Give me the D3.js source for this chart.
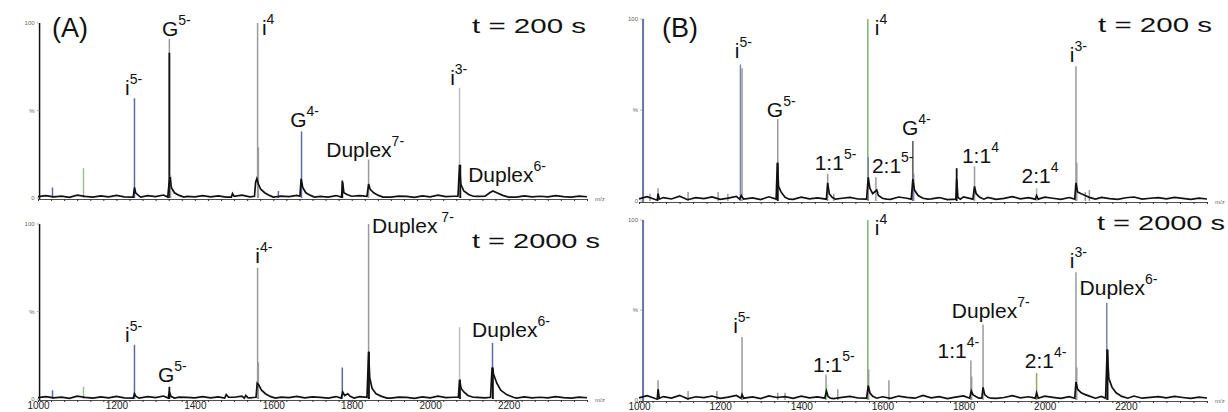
<!DOCTYPE html>
<html lang="en">
<head>
<meta charset="utf-8">
<title>ESI-MS spectra</title>
<script src="https://d3js.org/d3.v7.min.js"></script>
<style>
  body { margin: 0; background: #fff; }
  text { font-family: "Liberation Sans", Arial, sans-serif; }
</style>
</head>
<body>
<script>
// m/z range and tick labels
const mzDomain = [1000, 2400];
const majorTicks = [1000, 1200, 1400, 1600, 1800, 2000, 2200];

// baseline noise (% intensity), one value every 20 m/z from 1000
const noiseA = [0.8,1.4,0.6,1.1,0.4,1.6,0.9,0.5,1.2,0.7,1.5,0.6,1.0,0.4,1.3,0.8,1.7,0.5,1.1,0.9,
  0.6,1.4,0.7,1.2,0.5,1.0,1.6,0.6,0.9,1.3,0.4,1.1,0.8,1.5,0.6,1.2,0.9,0.5,1.4,0.7,
  1.0,1.3,0.6,0.8,1.5,0.5,1.1,0.9,0.4,1.2,0.7,1.6,0.8,1.0,0.5,1.3,0.9,0.6,1.4,0.8,
  1.1,0.5,1.2,0.7,1.0,0.6,1.3,0.8,0.5,1.1,0.7];
const noiseB = [1.2,2.4,0.8,1.9,1.1,2.6,0.7,1.8,1.3,2.2,0.9,1.6,2.5,1.0,1.7,0.8,2.3,1.4,1.9,0.9,
  2.1,1.2,1.7,2.6,0.8,1.5,2.0,1.1,2.4,1.3,1.8,0.9,2.2,1.5,1.0,2.5,1.2,1.9,0.8,1.6,
  2.3,1.1,1.7,2.0,0.9,1.4,2.4,1.2,1.8,1.0,2.1,1.5,0.9,1.9,2.3,1.1,1.6,2.0,1.3,0.9,
  1.8,2.2,1.0,1.5,1.9,1.2,2.0,1.4,0.9,1.6,1.1];

// centroid sticks: [m/z, %, colour key]
const sticksA1 = [[1037,6,'blue'],[1116,17,'green'],[1246,57,'blue'],[1335,91,'grey'],[1335,83,'black'],
  [1338,13,'grey'],[1560,100,'grey'],[1562,29,'grey'],[1613,4,'blue'],[1672,38,'blue'],
  [1776,10,'black'],[1843,22,'grey'],[2075,63,'light'],[2077,19,'black']];
const sticksA2 = [[1037,5,'blue'],[1116,7,'green'],[1246,31,'blue'],[1335,7,'black'],[1560,75,'grey'],
  [1562,21,'grey'],[1776,18,'blue'],[1843,100,'grey'],[1844,27,'black'],[2075,41,'light'],
  [2076,11,'black'],[2159,32,'blue'],[2160,18,'black']];
const sticksB1 = [[1027,4,'grey'],[1047,7,'grey'],[1121,5,'grey'],[1195,5,'grey'],[1219,4,'grey'],
  [1250,75,'slate'],[1254,73,'grey'],[1342,45,'grey'],[1342,21,'black'],[1465,15,'grey'],
  [1480,4,'grey'],[1564,100,'green2'],[1565,24,'slate'],[1584,13,'grey'],[1675,33,'dgrey'],
  [1677,15,'slate'],[1783,18,'black'],[1827,19,'grey'],[1980,7,'green'],[2077,74,'grey'],
  [2079,21,'grey'],[2100,5,'grey'],[2110,6,'grey']];
const sticksB2 = [[1047,11,'grey'],[1121,5,'grey'],[1192,5,'grey'],[1254,35,'grey'],[1342,4,'grey'],
  [1360,4,'grey'],[1461,14,'grey'],[1462,9,'green'],[1490,6,'grey'],[1564,100,'green2'],
  [1566,17,'grey'],[1616,11,'grey'],[1818,22,'grey'],[1820,13,'grey'],[1848,42,'grey'],
  [1980,15,'olive'],[2077,71,'grey'],[2079,18,'grey'],[2153,54,'slate'],[2155,28,'black']];

// profile peaks (black trace): lists of [m/z, %]
const peaksA1 = [
  [[1243,0.5],[1246,6],[1249,3],[1256,1.5],[1262,0.5]],
  [[1331,0.5],[1334,8],[1337,12],[1340,6],[1348,3],[1360,1.5],[1372,0.5]],
  [[1493,0.5],[1496,2.5],[1500,1]],
  [[1552,1],[1555,9],[1558,11],[1562,8],[1568,5],[1578,3],[1590,1.5],[1600,0.5]],
  [[1668,1],[1671,11],[1675,6],[1683,3],[1695,1.5],[1705,0.5]],
  [[1774,0.5],[1777,9],[1780,3],[1788,2],[1800,1]],
  [[1839,1],[1843,8],[1847,5],[1856,3],[1868,1.5],[1880,0.5]],
  [[2071,1],[2075,19],[2078,8],[2086,4],[2098,2],[2110,1]],
  [[2140,1],[2152,3],[2160,4],[2170,3],[2185,1.5],[2200,0.5]]];
const peaksA2 = [
  [[1243,0.5],[1246,3],[1250,1.5],[1258,0.5]],
  [[1332,0.5],[1335,4],[1339,1.5],[1348,0.5]],
  [[1476,0.5],[1480,2.5],[1486,1]],
  [[1526,0.5],[1530,2],[1535,0.8]],
  [[1556,1],[1559,9],[1563,8],[1570,5],[1580,3],[1592,1.5],[1605,0.5]],
  [[1773,0.5],[1777,4],[1782,2],[1790,3],[1796,1.5],[1806,0.5]],
  [[1839,1],[1843,27],[1846,12],[1852,6],[1862,3],[1876,1.5],[1890,0.5]],
  [[2072,1],[2075,11],[2079,6],[2086,4],[2096,2],[2110,1]],
  [[2154,1],[2158,18],[2162,14],[2170,9],[2180,5],[2195,2.5],[2212,1]]];
const peaksB1 = [
  [[1045,0.5],[1047,4],[1050,1]],
  [[1248,1],[1252,3],[1258,1]],
  [[1338,1],[1341,21],[1344,8],[1350,5],[1360,2],[1370,1]],
  [[1462,1],[1465,10],[1469,4],[1476,2],[1484,1]],
  [[1561,1],[1565,13],[1569,7],[1576,4],[1586,6],[1590,3],[1600,1.5],[1610,1]],
  [[1671,1],[1675,12],[1679,6],[1688,3],[1700,1.5],[1712,1]],
  [[1781,1],[1783,12],[1786,2],[1792,1]],
  [[1823,1],[1827,8],[1831,4],[1840,2],[1850,1]],
  [[1977,1],[1980,3],[1984,1]],
  [[2074,1],[2077,10],[2081,5],[2090,4],[2100,3],[2110,2],[2125,1]]];
const peaksB2 = [
  [[1045,0.5],[1047,6],[1050,1]],
  [[1251,1],[1254,3],[1258,1]],
  [[1458,1],[1462,5],[1466,2],[1472,1]],
  [[1561,1],[1565,8],[1569,4],[1576,2],[1586,1]],
  [[1815,1],[1819,5],[1823,3],[1830,2],[1838,1]],
  [[1845,1],[1848,7],[1852,3],[1860,1.5],[1868,1]],
  [[1977,1],[1980,4],[1984,1]],
  [[2074,1],[2077,10],[2081,6],[2090,4],[2100,3],[2112,2],[2125,1]],
  [[2150,1],[2154,28],[2158,12],[2166,7],[2176,4],[2190,2],[2205,1]]];

// peak labels: [main, superscript, m/z, %] (anchor = left end of text baseline)
const labelsA1 = [['i','5-',1222,58.9],['G','5-',1316,92.6],['i','4',1571,93.1],['G','4-',1643,40.6],
  ['Duplex','7-',1735,23.4],['i','3-',2051,64.6],['Duplex','6-',2097,9.1]];
const labelsA2 = [['i','4-',1554,77.7],['i','5-',1222,32.6],['G','5-',1306,9.7],
  ['Duplex',' 7-',1852,94.9],['Duplex','6-',2107,35.4]];
const labelsB1 = [['i','5-',1236,78.6],['G','5-',1315,46.2],['i','4',1581,91.2],['1:1','5-',1433,17.0],
  ['2:1','5-',1574,15.4],['G','4-',1648,36.3],['1:1','4',1796,20.9],['2:1','4',1943,9.9],['i','3-',2062,76.4]];
const labelsB2 = [['i','4',1581,91.7],['i','5-',1232,37.2],['1:1','5-',1429,15.6],['1:1','4-',1736,23.3],
  ['Duplex','7-',1771,45.6],['2:1','4-',1951,17.8],['i','3-',2062,73.3],['Duplex','6-',2086,58.3]];

const colors = {black:'#111', grey:'#9a9a9a', light:'#bdbdbd', blue:'#5d6aa2', green:'#9cc096',
  green2:'#7fb46c', slate:'#7c84ab', dgrey:'#555', olive:'#a3a35e'};

const W = 1228, H = 412;
const svg = d3.select(document.body).append('svg').attr('width', W).attr('height', H);

const panels = [
  {noise: noiseA, sticks: sticksA1, peaks: peaksA1, labels: labelsA1, xr: [38, 587], yr: [198, 23],
   axisMz: 1004, axisColor: '#111', axisW: 1.5, tag: '(A)', tagX: 52, time: 't = 200 s', tX: 472, tY: 33, tW: 114, xLabels: false},
  {noise: noiseA, sticks: sticksA2, peaks: peaksA2, labels: labelsA2, xr: [38, 587], yr: [399, 224],
   axisMz: 1004, axisColor: '#111', axisW: 1.5, time: 't = 2000 s', tX: 472, tY: 248, tW: 128, xLabels: true},
  {noise: noiseB, sticks: sticksB1, peaks: peaksB1, labels: labelsB1, xr: [639, 1207], yr: [201, 19],
   axisMz: 1010, axisColor: '#6a72a6', axisW: 2, tag: '(B)', tagX: 662, time: 't = 200 s', tX: 1098, tY: 32, tW: 114, xLabels: false},
  {noise: noiseB, sticks: sticksB2, peaks: peaksB2, labels: labelsB2, xr: [639, 1207], yr: [400, 220],
   axisMz: 1010, axisColor: '#6a72a6', axisW: 2, time: 't = 2000 s', tX: 1097, tY: 230, tW: 128, xLabels: true}
];

panels.forEach(p => {
  const x = d3.scaleLinear().domain(mzDomain).range(p.xr);
  const y = d3.scaleLinear().domain([0, 100]).range(p.yr);
  const g = svg.append('g');

  // x axis with minor ticks
  const minor = d3.range(1000, 2401, 200 / 6);
  g.append('g')
    .attr('transform', `translate(0,${y(0) + 1})`)
    .call(d3.axisBottom(x).tickValues(minor).tickSize(2).tickFormat('').tickSizeOuter(0))
    .call(a => a.select('.domain').attr('stroke', '#222').attr('stroke-width', 0.8))
    .call(a => a.selectAll('.tick line').attr('stroke', '#333'));

  if (p.xLabels) {
    g.append('g')
      .attr('transform', `translate(0,${y(0) + 1})`)
      .call(d3.axisBottom(x).tickValues(majorTicks).tickSize(0).tickPadding(2).tickFormat(d3.format('d')))
      .call(a => a.select('.domain').remove())
      .call(a => a.selectAll('text').attr('font-size', 10).attr('fill', '#222')
        .attr('font-family', '"Liberation Sans", Arial, sans-serif'));
  }

  // y axis line and labels
  g.append('line')
    .attr('x1', x(p.axisMz)).attr('x2', x(p.axisMz))
    .attr('y1', y(0) + 1).attr('y2', y(100))
    .attr('stroke', p.axisColor).attr('stroke-width', p.axisW);
  [[100, '100'], [50, '%'], [0, '0']].forEach(([v, t]) => {
    g.append('line').attr('x1', x(p.axisMz) - 3).attr('x2', x(p.axisMz))
      .attr('y1', y(v)).attr('y2', y(v)).attr('stroke', '#888').attr('stroke-width', 0.6);
    g.append('text').attr('x', x(p.axisMz) - 5).attr('y', y(v) + 2)
      .attr('text-anchor', 'end').attr('font-size', 6).attr('fill', '#666').text(t);
  });
  g.append('text').attr('x', p.xr[1] + 8).attr('y', y(0) + 3)
    .attr('font-size', 6).attr('fill', '#666').text('m/z');

  // sticks
  g.selectAll('line.stick').data(p.sticks).enter().append('line')
    .attr('class', 'stick')
    .attr('x1', d => x(d[0])).attr('x2', d => x(d[0]))
    .attr('y1', y(0)).attr('y2', d => y(d[1]))
    .attr('stroke', d => colors[d[2]])
    .attr('stroke-width', d => d[2] === 'black' ? 1.8 : 1.5);

  // black profile trace: noise merged with peak shapes
  const ranges = p.peaks.map(pk => [pk[0][0], pk[pk.length - 1][0]]);
  const pts = p.noise.map((v, i) => [1000 + i * 20, v])
    .filter(d => !ranges.some(r => d[0] >= r[0] - 3 && d[0] <= r[1] + 3));
  p.peaks.forEach(pk => pk.forEach(d => pts.push(d)));
  pts.sort((a, b) => a[0] - b[0]);
  g.append('path')
    .datum(pts)
    .attr('fill', 'none')
    .attr('stroke', '#111')
    .attr('stroke-width', 1.7)
    .attr('d', d3.line().x(d => x(d[0])).y(d => y(d[1])));

  // peak labels
  p.labels.forEach(([main, sup, mz, pct]) => {
    const t = g.append('text').attr('x', x(mz)).attr('y', y(pct)).attr('fill', '#111');
    t.append('tspan').attr('font-size', 21).text(main);
    t.append('tspan').attr('font-size', 14).attr('dy', -11).text(sup);
  });

  // panel tag and time
  if (p.tag) {
    g.append('text').attr('x', p.tagX).attr('y', 37).attr('font-size', 27).attr('fill', '#111').text(p.tag);
  }
  g.append('text').attr('x', p.tX).attr('y', p.tY).attr('font-size', 21).attr('fill', '#111')
    .attr('textLength', p.tW).attr('lengthAdjust', 'spacingAndGlyphs').text(p.time);
});
</script>
</body>
</html>
